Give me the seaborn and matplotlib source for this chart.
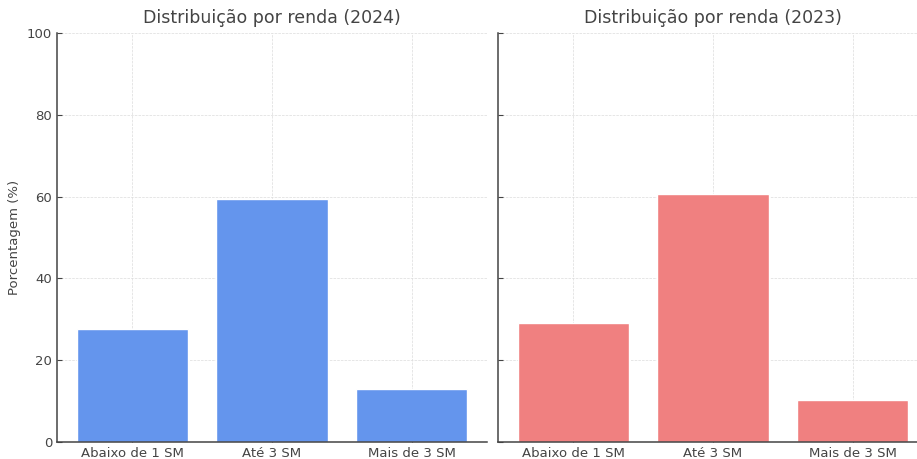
import matplotlib
matplotlib.use("Agg")
import matplotlib.pyplot as plt
import seaborn as sns
import pandas as pd

categorias = ["Abaixo de 1 SM", "Até 3 SM", "Mais de 3 SM"]
valores_2024 = [27.7, 59.4, 12.9]
valores_2023 = [29.2, 60.6, 10.2]
anos = ["2024", "2023"]
cores = ["#6495ED", "#F08080"]

sns.set_style("ticks", {
    "axes.edgecolor": "#444444",
    "axes.grid": True,
    "grid.color": "#d0d0d0",
    "grid.linestyle": "--",
    "xtick.direction": "in",
    "ytick.direction": "in",
})
plt.rcParams["font.family"] = ["DejaVu Sans"]
plt.rcParams["text.color"] = "#444444"
plt.rcParams["xtick.color"] = "#444444"
plt.rcParams["ytick.color"] = "#444444"
plt.rcParams["axes.labelcolor"] = "#444444"

fig = plt.figure(figsize=(9.17, 4.59), dpi=100)
W, H = 917, 459
ax1 = fig.add_axes([57 / W, (H - 442) / H, 430 / W, (442 - 33) / H])
ax2 = fig.add_axes([498 / W, (H - 442) / H, 430 / W, (442 - 33) / H])

for ax, ano, vals, cor in zip([ax1, ax2], anos, [valores_2024, valores_2023], cores):
    df = pd.DataFrame({"faixa": categorias, "pct": vals})
    sns.barplot(data=df, x="faixa", y="pct", color=cor, saturation=1,
                width=0.8, ax=ax)
    ax.set_xlim(-0.54, 2.54)
    ax.set_ylim(0, 100)
    ax.set_yticks([0, 20, 40, 60, 80, 100])
    ax.grid(True, axis="both", linestyle="--", linewidth=0.5, color="#dcdcdc")
    ax.set_axisbelow(True)
    ax.set_title(f"Distribuição por renda ({ano})", fontsize=12.5, color="#444444", pad=7)
    ax.set_xlabel("")
    ax.tick_params(axis="both", labelsize=9.5, length=3.5, width=0.8)
    for s in ["top", "right"]:
        ax.spines[s].set_visible(False)
    ax.spines["left"].set_linewidth(1.1)
    ax.spines["bottom"].set_linewidth(1.1)

ax1.set_ylabel("Porcentagem (%)", fontsize=9.5)
ax2.set_ylabel("")
ax2.tick_params(axis="y", labelleft=False)

fig.savefig("out.png", dpi=100)
